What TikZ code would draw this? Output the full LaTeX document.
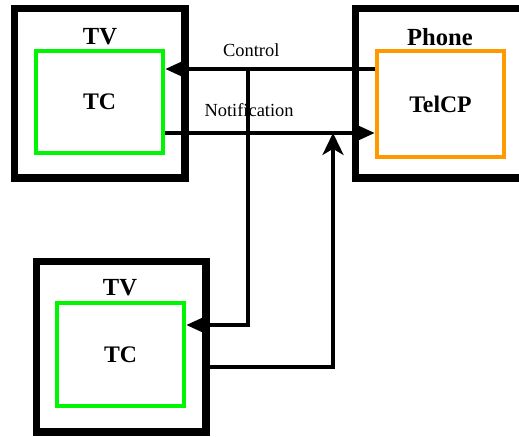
\documentclass[tikz,border=0pt]{standalone}
\usepackage{fontspec}
\setmainfont{Liberation Serif}
\usetikzlibrary{arrows.meta}
\definecolor{cpOrange}{RGB}{255,153,0}
\definecolor{tcGreen}{RGB}{0,245,0}

\begin{document}
\begin{tikzpicture}[x=0.02cm, y=-0.02cm,
    device/.style={rectangle, draw, line width=4pt, inner sep=0pt},
    tcbox/.style={rectangle, draw=tcGreen, line width=2.8pt, inner sep=0pt, minimum width=2.54cm, font=\fontsize{13.5}{16}\selectfont\bfseries},
    title/.style={font=\fontsize{14}{16}\selectfont\bfseries, inner sep=0pt},
    link/.style={line width=2pt, -{Stealth[length=11pt, width=10pt, inset=3pt]}},
    lbl/.style={font=\fontsize{10.5}{12}\selectfont, inner sep=0pt}]
        \clip (0,0) rectangle (519,436);
        % devices
        \node[device, minimum width=3.42cm, minimum height=3.40cm] (tv1) at (99.5,93) {};
        \node[device, minimum width=3.50cm, minimum height=3.40cm] (phone) at (442.5,93) {};
        \node[device, minimum width=3.40cm, minimum height=3.42cm] (tv2) at (121,346.5) {};
        \node[title] (tv1t) at (100,37) {TV};
        \node[title] (phonet) at (440,37) {Phone};
        \node[title] (tv2t) at (120,288) {TV};
        % components
        \node[tcbox, minimum height=2.04cm] (tc1) at (99.5,102) {TC};
        \node[tcbox, draw=cpOrange, minimum height=2.12cm] (telcp) at (440.5,104) {TelCP};
        \node[tcbox, minimum height=2.06cm] (tc2) at (120.5,354.5) {TC};
        \coordinate (ctl) at (248,69);
        \coordinate (ntf) at (333,133);
        % messages
        \draw[link] (telcp.west |- ctl) -- node[lbl, pos=0.59, yshift=0.38cm] {Control} (tc1.east |- ctl);
        \draw[link] (tc1.east |- ntf) -- node[lbl, pos=0.40, yshift=0.46cm] {Notification} (telcp.west |- ntf);
        \draw[link] (ctl) |- (tc2.east |- 0,325);
        \draw[link, line width=1.9pt, -{Stealth[length=12.5pt, width=12pt, inset=3.5pt]}] (tv2.east |- 0,367) -| (ntf);
    \end{tikzpicture}
\end{document}
